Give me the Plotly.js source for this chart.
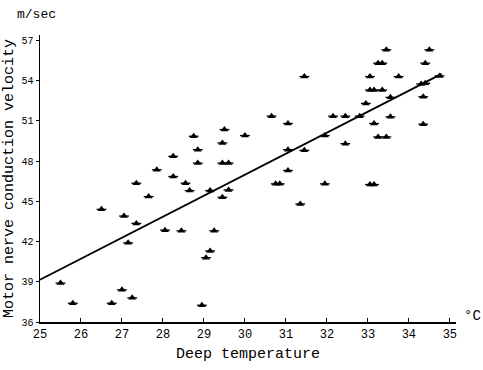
<!DOCTYPE html>
<html>
<head>
<meta charset="utf-8">
<script src="https://cdn.plot.ly/plotly-3.0.1.min.js"></script>
<style>
  html, body { margin: 0; padding: 0; background: #fff; }
  #chart { width: 483px; height: 370px; }
</style>
</head>
<body>
<div id="chart"></div>
<script>
// Deep temperature (°C) of each measurement
const deepTemp = [
  25.5, 25.8, 26.5, 26.75, 27.0, 27.05, 27.15, 27.25, 27.35, 27.35,
  27.65, 27.85, 28.05, 28.25, 28.25, 28.45, 28.55, 28.65, 28.75, 28.85,
  28.85, 28.95, 29.05, 29.15, 29.15, 29.25, 29.5, 29.45, 29.45, 29.6,
  29.6, 29.45, 30.0, 30.65, 31.05, 30.75, 30.85, 31.05, 31.05, 31.45,
  31.35, 31.45, 31.95, 31.95, 32.15, 32.45, 32.45, 32.8, 32.95, 33.05,
  33.05, 33.15, 33.35, 33.25, 33.35, 33.45, 33.75, 33.15, 33.55, 33.25,
  33.45, 33.05, 33.15, 33.55, 34.35, 34.4, 34.5, 34.35, 34.3, 34.4,
  34.75
];

// Motor nerve conduction velocity (m/sec) of each measurement
const conductionVelocity = [
  38.9, 37.4, 44.4, 37.4, 38.4, 43.9, 41.9, 37.8, 43.35, 46.35,
  45.35, 47.35, 42.85, 46.85, 48.35, 42.8, 46.35, 45.8, 49.85, 48.85,
  47.85, 37.25, 40.8, 41.3, 45.8, 42.8, 50.35, 49.35, 47.85, 47.85,
  45.85, 45.3, 49.9, 51.35, 50.8, 46.3, 46.3, 47.3, 48.85, 48.8,
  44.8, 54.3, 46.3, 49.9, 51.35, 51.35, 49.3, 51.35, 52.3, 54.3,
  53.3, 53.3, 53.3, 55.3, 55.3, 56.3, 54.3, 50.8, 51.3, 49.8,
  49.8, 46.25, 46.25, 52.75, 52.8, 55.3, 56.3, 50.75, 53.75, 53.8,
  54.35
];

// Fitted regression line (end points)
const fitTemp = [25, 34.8];
const fitVelocity = [39.15, 54.5];

// Axis ticks
const xTicks = [25, 26, 27, 28, 29, 30, 31, 32, 33, 34, 35];
const yTicks = [36, 39, 42, 45, 48, 51, 54, 57];

const FONT = '"Liberation Mono", "DejaVu Sans Mono", monospace';

const traces = [
  {
    x: fitTemp, y: fitVelocity,
    type: 'scatter', mode: 'lines',
    line: { color: '#000', width: 1.8 },
    hoverinfo: 'skip', showlegend: false
  },
  {
    // triangular head of each marker
    x: deepTemp, y: conductionVelocity,
    type: 'scatter', mode: 'markers',
    marker: { symbol: 'triangle-up', size: 7, color: '#000', line: { width: 0 } },
    showlegend: false
  },
  {
    // base bar of each marker
    x: deepTemp, y: conductionVelocity,
    type: 'scatter', mode: 'markers',
    marker: { symbol: 'line-ew', size: 7, color: '#000', line: { color: '#000', width: 1.3 } },
    hoverinfo: 'skip', showlegend: false
  }
];

const layout = {
  width: 483, height: 370,
  margin: { l: 40, r: 27, t: 35, b: 48 },
  paper_bgcolor: '#fff', plot_bgcolor: '#fff',
  font: { family: FONT, color: '#000', size: 12 },
  showlegend: false,
  xaxis: {
    range: [25, 35.15],
    tickvals: xTicks, ticktext: xTicks.map(String),
    ticks: 'inside', ticklen: 4, tickwidth: 1, tickcolor: '#000',
    showline: true, linecolor: '#000', linewidth: 1.5,
    showgrid: false, zeroline: false,
    tickfont: { family: FONT, size: 12, color: '#000' },
    title: { text: 'Deep temperature', font: { family: FONT, size: 15, color: '#000' }, standoff: 6 },
    automargin: false
  },
  yaxis: {
    range: [36, 57.4],
    tickvals: yTicks, ticktext: yTicks.map(String),
    ticks: 'outside', ticklen: 3, tickwidth: 1, tickcolor: '#000',
    showline: true, linecolor: '#000', linewidth: 1.5,
    showgrid: false, zeroline: false,
    tickfont: { family: FONT, size: 10, color: '#000' },
    title: { text: 'Motor nerve conduction velocity', font: { family: FONT, size: 15, color: '#000' }, standoff: 4 },
    automargin: false
  },
  annotations: [
    {
      text: 'm/sec', xref: 'paper', yref: 'paper',
      x: -0.06, y: 1.04, xanchor: 'left', yanchor: 'bottom',
      showarrow: false, font: { family: FONT, size: 13, color: '#000' }
    },
    {
      text: '°C', xref: 'paper', yref: 'paper',
      x: 1.015, y: -0.015, xanchor: 'left', yanchor: 'bottom',
      showarrow: false, font: { family: FONT, size: 14, color: '#000' }
    }
  ]
};

Plotly.newPlot('chart', traces, layout, { staticPlot: true, displayModeBar: false });
</script>
</body>
</html>
